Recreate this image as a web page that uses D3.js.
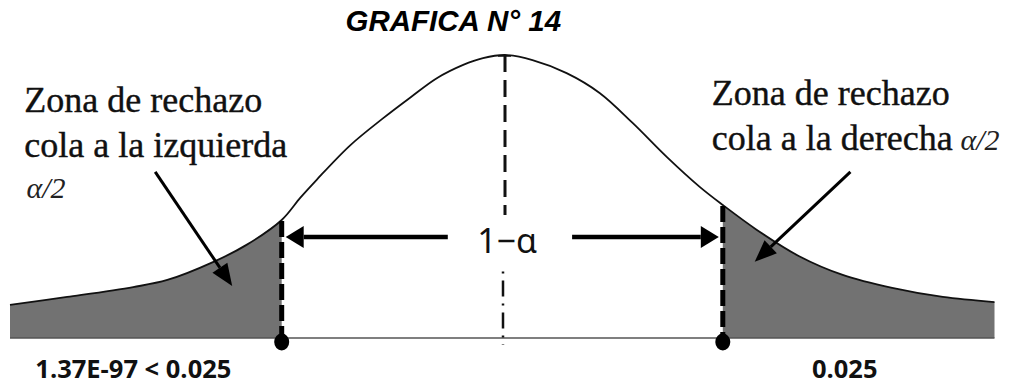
<!DOCTYPE html>
<html>
<head>
<meta charset="utf-8">
<script src="https://cdn.jsdelivr.net/npm/d3@7"></script>
<style>
  html, body { margin: 0; padding: 0; background: #fff; }
  svg { display: block; }
</style>
</head>
<body>
<svg id="chart" width="1020" height="385"></svg>
<script>
// ---- data ----
const curveZ       = [-4.5, -3.98, -3.38, -3.07, -2.65, -2.35, -2.03, -1.86, -1.71, -1.41, -1.11, -0.86, -0.62, -0.38, -0.20, 0, 0.25, 0.56, 0.86, 1.16, 1.47, 1.77, 1.98, 2.29, 2.67, 3.07, 3.52, 3.98, 4.45];
const curveDensity = [0.117, 0.145, 0.180, 0.205, 0.269, 0.329, 0.417, 0.496, 0.560, 0.680, 0.776, 0.850, 0.918, 0.965, 0.989, 1.0, 0.982, 0.936, 0.866, 0.760, 0.640, 0.534, 0.470, 0.382, 0.290, 0.223, 0.177, 0.145, 0.127];
const criticalZ    = [-2.03, 1.98];
const tailValueLabels = ["1.37E-97 < 0.025", "0.025"];
const titleText    = "GRAFICA N° 14";
const leftNote     = ["Zona de rechazo", "cola a la izquierda", "α/2"];
const rightNote    = ["Zona de rechazo", "cola a la derecha"];
const centerLabel  = "1−α";

// ---- scales ----
const x = d3.scaleLinear().domain([-4.5, 4.5]).range([10, 1000]);
const y = d3.scaleLinear().domain([0, 1]).range([338, 55]);

const svg = d3.select("#chart");
const pts = curveZ.map((z, i) => ({ z, v: curveDensity[i] }));

const line = d3.line().x(d => x(d.z)).y(d => y(d.v)).curve(d3.curveCatmullRom.alpha(0.5));
const area = d3.area().x(d => x(d.z)).y0(y(0)).y1(d => y(d.v)).curve(d3.curveCatmullRom.alpha(0.5));

const leftTail  = pts.filter(d => d.z <= criticalZ[0]);
const rightTail = pts.filter(d => d.z >= criticalZ[1]);

// shaded rejection regions
svg.append("path").attr("d", area(leftTail)).attr("fill", "#727272");
svg.append("path").attr("d", area(rightTail)).attr("fill", "#727272");

// baseline
svg.append("line")
  .attr("x1", x(curveZ[0])).attr("x2", x(curveZ[curveZ.length - 1]))
  .attr("y1", y(0)).attr("y2", y(0))
  .attr("stroke", "#555").attr("stroke-width", 1.6);

// curve
svg.append("path").attr("d", line(pts))
  .attr("fill", "none").attr("stroke", "#111").attr("stroke-width", 1.8);

// center dashed line (interrupted by the 1−α label)
svg.append("line")
  .attr("x1", x(0)).attr("x2", x(0))
  .attr("y1", y(1)).attr("y2", y(0.435))
  .attr("stroke", "#111").attr("stroke-width", 3)
  .attr("stroke-dasharray", "17,8");
svg.append("line")
  .attr("x1", x(0) - 2).attr("x2", x(0) - 2)
  .attr("y1", y(0.235)).attr("y2", y(0) + 7)
  .attr("stroke", "#111").attr("stroke-width", 2.5)
  .attr("stroke-dasharray", "2,7,16,7");
svg.append("line")
  .attr("x1", x(0) - 7).attr("x2", x(0) + 6)
  .attr("y1", y(1) + 1).attr("y2", y(1) + 1)
  .attr("stroke", "#111").attr("stroke-width", 1.5);

// critical dashed lines + dots
const densityAt = z => curveDensity[curveZ.indexOf(z)];
criticalZ.forEach(cz => {
  svg.append("line")
    .attr("x1", x(cz)).attr("x2", x(cz))
    .attr("y1", y(densityAt(cz)) + 1).attr("y2", y(0))
    .attr("stroke", "#000").attr("stroke-width", 5)
    .attr("stroke-dasharray", "16,5");
  svg.append("ellipse")
    .attr("cx", x(cz)).attr("cy", y(0) + 4).attr("rx", 7.5).attr("ry", 8.5)
    .attr("fill", "#000");
});

// arrow helper
function arrow(x1, y1, x2, y2, width, headLen, headHalf) {
  const ang = Math.atan2(y2 - y1, x2 - x1);
  const bx = x2 - headLen * Math.cos(ang), by = y2 - headLen * Math.sin(ang);
  svg.append("line")
    .attr("x1", x1).attr("y1", y1).attr("x2", bx).attr("y2", by)
    .attr("stroke", "#000").attr("stroke-width", width);
  const px = -Math.sin(ang) * headHalf, py = Math.cos(ang) * headHalf;
  svg.append("path")
    .attr("d", `M${x2},${y2}L${bx + px},${by + py}L${bx - px},${by - py}Z`)
    .attr("fill", "#000");
}

// horizontal 1-α arrows
const arrowV = 0.357;
arrow(x(-0.52), y(arrowV), x(criticalZ[0]) + 4, y(arrowV), 4.5, 18, 11);
arrow(x(0.61), y(arrowV), x(criticalZ[1]) - 4, y(arrowV), 4.5, 18, 11);

// diagonal pointer arrows
arrow(x(-3.18), y(0.587), x(-2.48), y(0.184), 3, 22, 9);
arrow(x(3.14), y(0.587), x(2.27), y(0.269), 3, 22, 9);

// center label
svg.append("text")
  .attr("x", x(0.02)).attr("y", y(0.30))
  .attr("text-anchor", "middle")
  .attr("font-family", "'Noto Sans', sans-serif")
  .attr("font-size", 34)
  .attr("fill", "#111")
  .text(centerLabel);

// title
svg.append("text")
  .attr("x", x(-1.45)).attr("y", y(1.085))
  .attr("font-family", "'Liberation Sans', Arial, sans-serif")
  .attr("font-weight", "bold").attr("font-style", "italic")
  .attr("font-size", 29.5)
  .attr("fill", "#000")
  .text(titleText);

// left note
const serif = "'Liberation Serif', 'Times New Roman', serif";
const leftBase = [0.799, 0.640];
leftNote.slice(0, 2).forEach((t, i) => {
  svg.append("text")
    .attr("x", x(-4.37)).attr("y", y(leftBase[i]))
    .attr("font-family", serif).attr("font-size", 36)
    .attr("fill", "#111").attr("stroke", "#111").attr("stroke-width", 0.4)
    .text(t);
});
svg.append("text")
  .attr("x", x(-4.35)).attr("y", y(0.495))
  .attr("font-family", serif).attr("font-style", "italic")
  .attr("font-size", 30).attr("fill", "#222")
  .text(leftNote[2]);

// right note
const rightBase = [0.823, 0.664];
rightNote.forEach((t, i) => {
  svg.append("text")
    .attr("x", x(1.88)).attr("y", y(rightBase[i]))
    .attr("font-family", serif).attr("font-size", 36)
    .attr("fill", "#111").attr("stroke", "#111").attr("stroke-width", 0.4)
    .text(t);
});
svg.append("text")
  .attr("x", x(4.14)).attr("y", y(0.664))
  .attr("font-family", serif).attr("font-style", "italic")
  .attr("font-size", 30).attr("fill", "#222")
  .text(leftNote[2]);

// tail value labels
svg.append("text")
  .attr("x", x(-4.27)).attr("y", y(-0.141))
  .attr("font-family", "'Open Sans', sans-serif").attr("font-weight", "bold")
  .attr("font-size", 25.5).attr("fill", "#111")
  .text(tailValueLabels[0]);
svg.append("text")
  .attr("x", x(2.79)).attr("y", y(-0.141))
  .attr("font-family", "'Open Sans', sans-serif").attr("font-weight", "bold")
  .attr("font-size", 25.5).attr("fill", "#111")
  .text(tailValueLabels[1]);
</script>
</body>
</html>
